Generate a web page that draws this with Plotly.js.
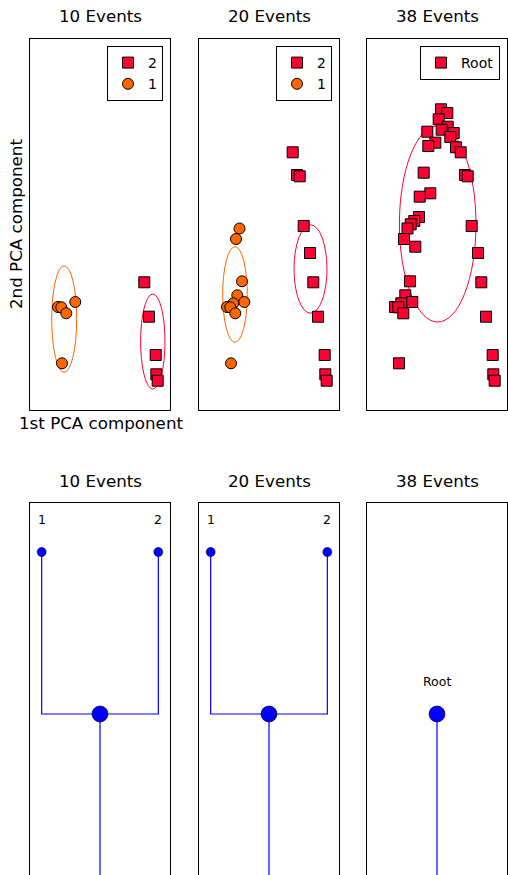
<!DOCTYPE html>
<html><head><meta charset="utf-8">
<script src="https://cdn.plot.ly/plotly-3.0.1.min.js"></script>
<style>html,body{margin:0;padding:0;overflow:hidden;background:#fff}</style>
</head><body><div id="chart" style="width:508px;height:875px"></div>
<script>
// ---- PCA projection of all 38 events (1st and 2nd component) ----
const pc1 = [0.08, 0.206, 0.034, 0.214, 0.094, -0.194, 0.334, 0.266, -0.034, -0.174,
             0.38, 0.474, -0.266, 0.56, 0.614, -0.134, -0.346, -0.36, -0.454, -0.526,
             -0.59, 0.694, -0.66, -0.434, 0.82, -0.54, 0.886, -0.634, -0.714, -0.494,
             -0.84, -0.774, -0.674, 0.98, 1.114, -0.76, 1.126, 1.154];
const pc2 = [1.152, 1.115, 1.052, 0.978, 0.948, 0.928, 0.915, 0.875, 0.818, 0.785,
             0.772, 0.722, 0.518, 0.495, 0.482, 0.312, 0.278, 0.075, 0.035, 0.002,
             -0.04, -0.015, -0.145, -0.222, -0.285, -0.568, -0.578, -0.708, -0.788, -0.775,
             -0.825, -0.828, -0.888, -0.922, -1.305, -1.388, -1.498, -1.562];

// events present in each panel, split by cluster
const events10_cluster1 = [30, 31, 32, 29, 35];
const events10_cluster2 = [26, 33, 34, 36, 37];
const events20_cluster1 = [20, 22, 25, 27, 28, 29, 30, 31, 32, 35];
const events20_cluster2 = [11, 13, 14, 21, 24, 26, 33, 34, 36, 37];
const events38_root = Array.from({length: pc1.length}, (_, i) => i);

const panelTitles = ["10 Events", "20 Events", "38 Events"];
const clusterNames10 = ["1", "2"];
const clusterNames20 = ["1", "2"];
const clusterNames38 = ["Root"];

// cluster ellipses: [centre pc1, centre pc2, half-width, half-height]
const ellipse10_cluster1 = [-0.716, -0.945, 0.25, 0.533];
const ellipse10_cluster2 = [1.056, -1.17, 0.244, 0.475];
const ellipse20_cluster1 = [-0.68, -0.70, 0.246, 0.478];
const ellipse20_cluster2 = [0.83, -0.445, 0.33, 0.442];
const ellipse38_root = [0.014, 0.005, 0.766, 0.98];

// cluster trees: node positions, parents and labels
const tree10_x = [0.5, 0, 1];
const tree10_y = [1, 2, 2];
const tree10_parent = [-1, 0, 0];
const tree10_label = ["", "1", "2"];
const tree20_x = [0.5, 0, 1];
const tree20_y = [1, 2, 2];
const tree20_parent = [-1, 0, 0];
const tree20_label = ["", "1", "2"];
const tree38_x = [0.5];
const tree38_y = [1];
const tree38_parent = [-1];
const tree38_label = ["Root"];
const treeBase = 0;

// ---- styling ----
const FONT = "DejaVu Sans";
const ORANGE = "#ff6600";
const RED = "#ff0033";
const W = 508, H = 875;
const px = v => v / W;
const py = v => 1 - v / H;
const xDomains = [[px(30), px(170)], [px(199), px(339)], [px(367), px(507)]];
const topDomain = [py(410), py(39)];
const botDomain = [0, py(503)];

const traces = [];
const shapes = [];
const annotations = [];

function pick(arr, idx) { return idx.map(i => arr[i]); }

function scatterPanel(k, groups) {
  const ax = k === 0 ? "" : String(k + 1);
  const legendId = k === 0 ? "legend" : "legend" + (k + 1);
  groups.forEach(g => {
    traces.push({
      type: "scatter", mode: "markers",
      x: pick(pc1, g.idx), y: pick(pc2, g.idx),
      xaxis: "x" + ax, yaxis: "y" + ax,
      name: g.name, legend: legendId, legendrank: g.rank,
      marker: {color: g.color, symbol: g.symbol, size: 11, opacity: 1,
               line: {color: "#000", width: 1}},
      hoverinfo: "skip"
    });
    const e = g.ellipse;
    shapes.push({type: "circle", xref: "x" + ax, yref: "y" + ax,
      x0: e[0] - e[2], x1: e[0] + e[2], y0: e[1] - e[3], y1: e[1] + e[3],
      line: {color: g.color, width: 1}, fillcolor: "rgba(0,0,0,0)", layer: "below"});
  });
}

scatterPanel(0, [
  {idx: events10_cluster2, name: clusterNames10[1], color: RED, symbol: "square", ellipse: ellipse10_cluster2, rank: 1},
  {idx: events10_cluster1, name: clusterNames10[0], color: ORANGE, symbol: "circle", ellipse: ellipse10_cluster1, rank: 2}
]);
scatterPanel(1, [
  {idx: events20_cluster2, name: clusterNames20[1], color: RED, symbol: "square", ellipse: ellipse20_cluster2, rank: 1},
  {idx: events20_cluster1, name: clusterNames20[0], color: ORANGE, symbol: "circle", ellipse: ellipse20_cluster1, rank: 2}
]);
scatterPanel(2, [
  {idx: events38_root, name: clusterNames38[0], color: RED, symbol: "square", ellipse: ellipse38_root, rank: 1}
]);

function treePanel(k, tx, ty, parent, labels) {
  const ax = String(k + 4);
  const lx = [], ly = [];
  tx.forEach((x, i) => {
    const p = parent[i];
    if (p >= 0) {
      lx.push(x, x, tx[p], null);
      ly.push(ty[i], ty[p], ty[p], null);
    } else {
      lx.push(x, x, null);
      ly.push(ty[i], treeBase, null);
    }
  });
  traces.push({type: "scatter", mode: "lines", x: lx, y: ly,
    xaxis: "x" + ax, yaxis: "y" + ax, showlegend: false, hoverinfo: "skip",
    line: {color: "#0000ff", width: 1.2}});
  traces.push({type: "scatter", mode: "markers", x: tx, y: ty,
    xaxis: "x" + ax, yaxis: "y" + ax, showlegend: false, hoverinfo: "skip",
    marker: {color: "#0000ff", opacity: 1, size: parent.map(p => p < 0 ? 16 : 9),
             line: {color: "#000", width: 0.6}}});
  labels.forEach((t, i) => {
    if (!t) return;
    annotations.push({xref: "x" + ax, yref: "y" + ax, x: tx[i], y: ty[i] + 0.2,
      text: t, showarrow: false, font: {family: FONT, size: 12.5, color: "#000"},
      xanchor: "center", yanchor: "middle"});
  });
}
treePanel(0, tree10_x, tree10_y, tree10_parent, tree10_label);
treePanel(1, tree20_x, tree20_y, tree20_parent, tree20_label);
treePanel(2, tree38_x, tree38_y, tree38_parent, tree38_label);

const layout = {
  width: W, height: H,
  margin: {l: 0, r: 0, t: 0, b: 0},
  paper_bgcolor: "#fff", plot_bgcolor: "#fff",
  font: {family: FONT, color: "#000"},
  shapes: shapes, annotations: annotations
};

function axisBase(domain, range, anchor) {
  return {domain: domain, range: range, anchor: anchor, showgrid: false, zeroline: false,
    showticklabels: false, ticks: "", showline: true, mirror: true,
    linecolor: "#000", linewidth: 1, fixedrange: true};
}
for (let k = 0; k < 3; k++) {
  const a = k === 0 ? "" : String(k + 1);
  layout["xaxis" + a] = axisBase(xDomains[k], [-1.4, 1.4], "y" + a);
  layout["yaxis" + a] = axisBase(topDomain, [-1.855, 1.855], "x" + a);
  const b = String(k + 4);
  layout["xaxis" + b] = axisBase(xDomains[k], [-0.1, 1.1], "y" + b);
  layout["yaxis" + b] = axisBase(botDomain, [0.006, 2.3025], "x" + b);
}

const legendRights = [163, 332, 500];
["legend", "legend2", "legend3"].forEach((id, k) => {
  layout[id] = {x: px(legendRights[k]), xanchor: "right", y: py(46), yanchor: "top",
    bgcolor: "#fff", bordercolor: "#000", borderwidth: 1,
    font: {family: FONT, size: 14, color: "#000"}, traceorder: "normal",
    itemwidth: 30, tracegroupgap: 0};
});

// panel titles and axis labels
panelTitles.forEach((t, k) => {
  const cx = (xDomains[k][0] + xDomains[k][1]) / 2;
  annotations.push({xref: "paper", yref: "paper", x: cx, y: py(16), text: t, showarrow: false,
    xanchor: "center", yanchor: "middle", font: {family: FONT, size: 16.7, color: "#000"}});
  annotations.push({xref: "paper", yref: "paper", x: cx, y: py(481), text: t, showarrow: false,
    xanchor: "center", yanchor: "middle", font: {family: FONT, size: 16.7, color: "#000"}});
});
annotations.push({xref: "paper", yref: "paper", x: px(100.5), y: py(423), text: "1st PCA component",
  showarrow: false, xanchor: "center", yanchor: "middle", font: {family: FONT, size: 16.7, color: "#000"}});
annotations.push({xref: "paper", yref: "paper", x: px(16), y: py(224), text: "2nd PCA component",
  textangle: -90, showarrow: false, xanchor: "center", yanchor: "middle",
  font: {family: FONT, size: 16.7, color: "#000"}});

Plotly.newPlot("chart", traces, layout, {staticPlot: true, displayModeBar: false});
</script>
</body></html>
